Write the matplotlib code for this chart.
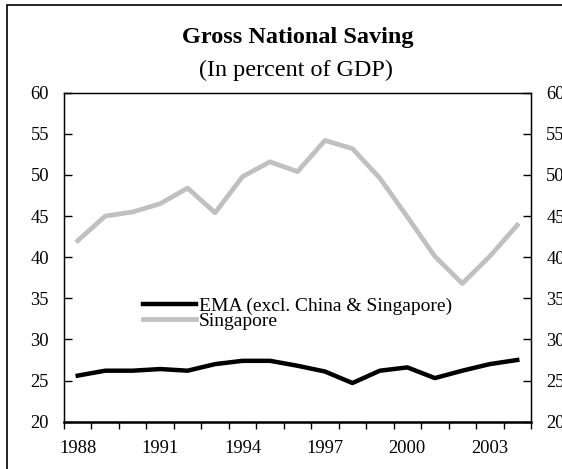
import matplotlib
matplotlib.use("Agg")
import matplotlib.pyplot as plt
from matplotlib.patches import Rectangle

# Datos (porcentaje del PIB)
years = list(range(1988, 2005))
ema = [25.6, 26.2, 26.2, 26.4, 26.2, 27.0, 27.4, 27.4, 26.8, 26.1, 24.7,
       26.2, 26.6, 25.3, 26.2, 27.0, 27.5]
singapore = [42.0, 45.0, 45.5, 46.5, 48.4, 45.4, 49.8, 51.6, 50.4, 54.2, 53.2,
             49.6, 44.9, 40.1, 36.8, 40.1, 43.9]
year_labels = ["1988", "1991", "1994", "1997", "2000", "2003"]

plt.rcParams["font.family"] = ["Liberation Serif", "DejaVu Serif"]
plt.rcParams["font.size"] = 13.3

fig = plt.figure(figsize=(5.62, 4.69), dpi=100)
ax = fig.add_axes([0.1139, 0.1009, 0.8309, 0.7014])

x = list(range(len(years)))
ax.plot(x, ema, color="black", lw=3.2, label="EMA (excl. China & Singapore)")
ax.plot(x, singapore, color="#c0c0c0", lw=3.4, label="Singapore")

ax.set_xlim(-0.5, len(years) - 0.5)
ax.set_ylim(20, 60)
ax.set_yticks(range(20, 61, 5))

# ticks en los limites de cada año, etiquetas en el centro
ax.set_xticks([i - 0.5 for i in range(len(years) + 1)])
ax.set_xticklabels([])
ax.set_xticks([years.index(int(y)) for y in year_labels], year_labels, minor=True)
ax.tick_params(axis="x", which="major", direction="out", length=5, width=1)
ax.tick_params(axis="x", which="minor", length=0, pad=13.5)
ax.tick_params(axis="y", direction="in", length=6, width=1, pad=10.8)

for s in ["top", "left", "right"]:
    ax.spines[s].set_linewidth(1)
ax.spines["bottom"].set_linewidth(1.8)

ax2 = ax.twinx()
ax2.set_ylim(20, 60)
ax2.set_yticks(range(20, 61, 5))
ax2.tick_params(axis="y", direction="in", length=6, width=1, pad=11)

leg = ax.legend(loc="upper left", bbox_to_anchor=(0.17, 0.378), frameon=False,
                fontsize=14, handlelength=2.7, handletextpad=0.15, labelspacing=-0.12,
                borderaxespad=0, borderpad=0)

fig.text(0.53, 1 - 42.7 / 469, "Gross National Saving", ha="center", va="baseline",
         fontsize=17.5, fontweight="bold")
fig.text(0.527, 1 - 76 / 469, "(In percent of GDP)", ha="center", va="baseline", fontsize=17.4)

# marco exterior
fig.patches.append(Rectangle((7 / 562, -0.02), 1.0, 1 - 5.3 / 469 + 0.02,
                             transform=fig.transFigure, fill=False, lw=1.2, color="black"))

fig.savefig("out.png", dpi=100)
